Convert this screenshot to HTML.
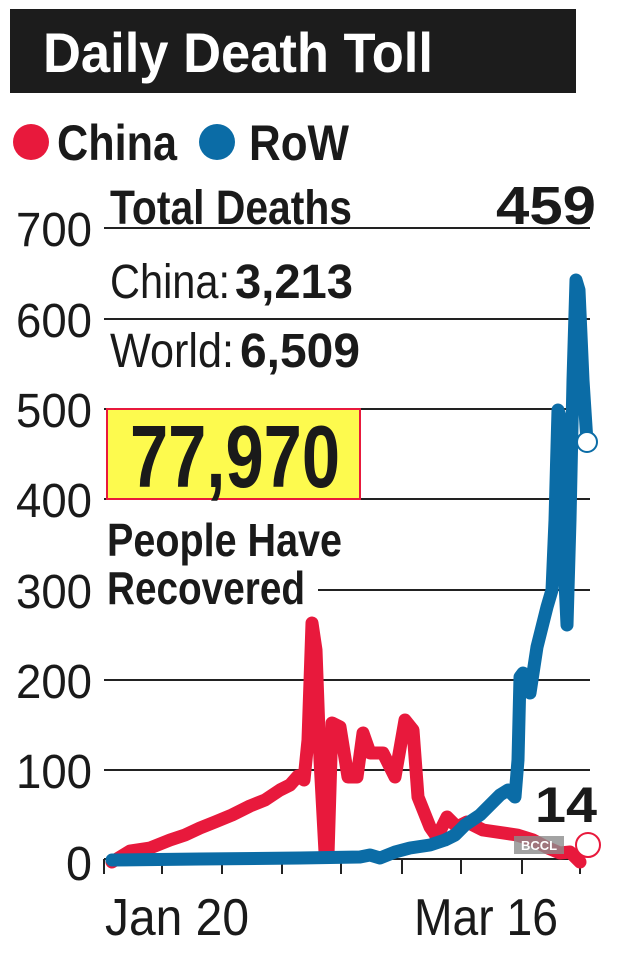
<!DOCTYPE html>
<html><head><meta charset="utf-8"><style>
html,body{margin:0;padding:0;background:#fff;}
svg{display:block;}
text{font-family:"Liberation Sans Narrow","Liberation Sans",sans-serif;}
</style></head><body>
<svg width="630" height="970" viewBox="0 0 630 970" xmlns="http://www.w3.org/2000/svg">
<rect x="10" y="9" width="566" height="84" fill="#1c1c1c"/>
<text x="43" y="72" font-size="56" font-weight="bold" fill="#fff" textLength="390" lengthAdjust="spacingAndGlyphs">Daily Death Toll</text>
<circle cx="31" cy="142" r="18" fill="#e8193c"/>
<text x="57" y="160" font-size="50" font-weight="bold" fill="#1a1a1a" textLength="120" lengthAdjust="spacingAndGlyphs">China</text>
<circle cx="217" cy="142" r="18" fill="#0b6ca6"/>
<text x="249" y="160" font-size="50" font-weight="bold" fill="#1a1a1a" textLength="100" lengthAdjust="spacingAndGlyphs">RoW</text>
<g stroke="#222" stroke-width="2">
<line x1="104" y1="228" x2="590" y2="228"/>
<line x1="104" y1="319" x2="590" y2="319"/>
<line x1="104" y1="409" x2="590" y2="409"/>
<line x1="104" y1="499" x2="590" y2="499"/>
<line x1="318" y1="590" x2="590" y2="590"/>
<line x1="104" y1="680" x2="590" y2="680"/>
<line x1="104" y1="770" x2="590" y2="770"/>
<line x1="104" y1="859" x2="582" y2="859"/>
<line x1="104" y1="859" x2="104" y2="874"/>
<line x1="162" y1="859" x2="162" y2="874"/>
<line x1="222" y1="859" x2="222" y2="874"/>
<line x1="282" y1="859" x2="282" y2="874"/>
<line x1="341" y1="859" x2="341" y2="874"/>
<line x1="402" y1="859" x2="402" y2="874"/>
<line x1="461" y1="859" x2="461" y2="874"/>
<line x1="522" y1="859" x2="522" y2="874"/>
<line x1="580" y1="859" x2="580" y2="874"/>
</g>
<g font-size="48" fill="#1a1a1a" text-anchor="end">
<text x="92" y="246" textLength="76" lengthAdjust="spacingAndGlyphs">700</text>
<text x="92" y="337" textLength="76" lengthAdjust="spacingAndGlyphs">600</text>
<text x="92" y="427" textLength="76" lengthAdjust="spacingAndGlyphs">500</text>
<text x="92" y="517" textLength="76" lengthAdjust="spacingAndGlyphs">400</text>
<text x="92" y="608" textLength="76" lengthAdjust="spacingAndGlyphs">300</text>
<text x="92" y="698" textLength="76" lengthAdjust="spacingAndGlyphs">200</text>
<text x="92" y="788" textLength="76" lengthAdjust="spacingAndGlyphs">100</text>
<text x="92" y="880" textLength="26" lengthAdjust="spacingAndGlyphs">0</text>
</g>
<text x="110" y="224" font-size="48" font-weight="bold" fill="#1a1a1a" textLength="242" lengthAdjust="spacingAndGlyphs">Total Deaths</text>
<text x="596" y="224" font-size="54" font-weight="bold" fill="#1a1a1a" text-anchor="end" textLength="100" lengthAdjust="spacingAndGlyphs">459</text>
<text x="110" y="298" font-size="48" fill="#1a1a1a" textLength="120" lengthAdjust="spacingAndGlyphs">China:</text>
<text x="235" y="298" font-size="48" font-weight="bold" fill="#1a1a1a" textLength="118" lengthAdjust="spacingAndGlyphs">3,213</text>
<text x="110" y="367" font-size="48" fill="#1a1a1a" textLength="124" lengthAdjust="spacingAndGlyphs">World:</text>
<text x="240" y="367" font-size="48" font-weight="bold" fill="#1a1a1a" textLength="120" lengthAdjust="spacingAndGlyphs">6,509</text>
<rect x="107" y="409" width="253" height="90" fill="#fdfa4e" stroke="#e8193c" stroke-width="2"/>
<text x="130" y="487" font-size="88" font-weight="bold" fill="#1a1a1a" textLength="210" lengthAdjust="spacingAndGlyphs">77,970</text>
<text x="107" y="556" font-size="46" font-weight="bold" fill="#1a1a1a" textLength="235" lengthAdjust="spacingAndGlyphs">People Have</text>
<text x="107" y="604" font-size="46" font-weight="bold" fill="#1a1a1a" textLength="198" lengthAdjust="spacingAndGlyphs">Recovered</text>
<polyline fill="none" stroke="#e8193c" stroke-width="13" stroke-linejoin="round" stroke-linecap="round"
points="112,862 130,851 150,848 170,840 185,835 200,828 215,822 232,815 250,806 265,800 280,790 290,785 298,776 304,780 308,740 312,623 316,650 320,760 325,852 328,855 332,723 340,727 348,777 357,777 363,733 370,753 383,753 395,777 405,720 413,730 418,797 430,827 437,837 447,817 457,827 467,822 483,830 517,835 533,840 548,848 560,853 570,852 580,862"/>
<polyline fill="none" stroke="#0b6ca6" stroke-width="13" stroke-linejoin="round" stroke-linecap="round"
points="112,860 200,859 300,858 360,857 370,855 380,858 395,852 410,848 430,845 445,840 455,835 465,825 480,815 490,805 500,795 508,790 515,797 518,760 520,677 523,673 530,693 537,647 547,607 552,590 555,520 558,410 561,420 564,560 567,625 570,520 573,380 576,280 579,290 583,380 587,442"/>
<circle cx="587" cy="442" r="10" fill="#fff" stroke="#0b6ca6" stroke-width="2"/>
<circle cx="588" cy="845" r="12" fill="#fff" stroke="#e8193c" stroke-width="2"/>
<text x="597" y="822" font-size="50" font-weight="bold" fill="#1a1a1a" text-anchor="end" textLength="62" lengthAdjust="spacingAndGlyphs">14</text>
<rect x="514" y="836" width="50" height="18" fill="#8c8c8c" opacity="0.8"/>
<text x="539" y="850" font-size="13" font-weight="bold" fill="#fff" text-anchor="middle" font-family="Liberation Sans, sans-serif">BCCL</text>
<text x="105" y="935" font-size="52" fill="#1a1a1a" textLength="144" lengthAdjust="spacingAndGlyphs">Jan 20</text>
<text x="414" y="935" font-size="52" fill="#1a1a1a" textLength="144" lengthAdjust="spacingAndGlyphs">Mar 16</text>
</svg>
</body></html>
